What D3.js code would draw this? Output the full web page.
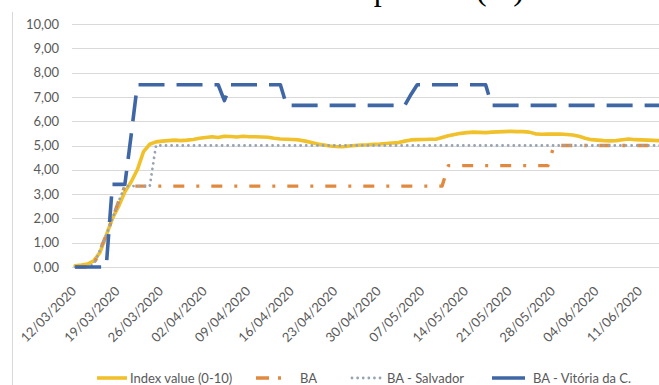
<!DOCTYPE html>
<html>
<head>
<meta charset="utf-8">
<script src="https://cdn.jsdelivr.net/npm/d3@7"></script>
<style>
  html, body { margin: 0; padding: 0; background: #fff; overflow: hidden; }
  text { font-family: Lato, "Liberation Sans", sans-serif; }
</style>
</head>
<body>
<svg id="chart" width="659" height="385"></svg>
<script>
// Daily series, starting 12/03/2020
const firstDay = "12/03/2020";

const indexValue = [
  0.05, 0.08, 0.12, 0.25, 0.6, 1.3, 2.0, 2.5, 3.1, 3.5,
  4.0, 4.75, 5.05, 5.15, 5.18, 5.2, 5.22, 5.2, 5.22, 5.25,
  5.3, 5.33, 5.36, 5.33, 5.38, 5.37, 5.35, 5.38, 5.36, 5.36,
  5.35, 5.34, 5.3, 5.27, 5.26, 5.25, 5.23, 5.18, 5.12, 5.06,
  5.02, 4.98, 4.96, 4.95, 4.98, 5.0, 5.02, 5.03, 5.05, 5.06,
  5.08, 5.1, 5.12, 5.18, 5.23, 5.24, 5.25, 5.26, 5.26, 5.33,
  5.4, 5.45, 5.5, 5.53, 5.55, 5.54, 5.53, 5.55, 5.56, 5.57,
  5.58, 5.57, 5.57, 5.55, 5.48, 5.46, 5.47, 5.47, 5.47, 5.45,
  5.43, 5.38, 5.3, 5.24, 5.22, 5.2, 5.19, 5.2, 5.24, 5.27,
  5.24, 5.23, 5.22, 5.21, 5.2, 5.2, 5.2
];

const baValues = [
  0, 0, 0, 0.1, 0.7, 1.3, 2.0, 2.7, 3.33, 3.33,
  3.33, 3.33, 3.33, 3.33, 3.33, 3.33, 3.33, 3.33, 3.33, 3.33,
  3.33, 3.33, 3.33, 3.33, 3.33, 3.33, 3.33, 3.33, 3.33, 3.33,
  3.33, 3.33, 3.33, 3.33, 3.33, 3.33, 3.33, 3.33, 3.33, 3.33,
  3.33, 3.33, 3.33, 3.33, 3.33, 3.33, 3.33, 3.33, 3.33, 3.33,
  3.33, 3.33, 3.33, 3.33, 3.33, 3.33, 3.33, 3.33, 3.33, 3.33,
  4.17, 4.17, 4.17, 4.17, 4.17, 4.17, 4.17, 4.17, 4.17, 4.17,
  4.17, 4.17, 4.17, 4.17, 4.17, 4.17, 4.17, 5.0, 5.0, 5.0,
  5.0, 5.0, 5.0, 5.0, 5.0, 5.0, 5.0, 5.0, 5.0, 5.0,
  5.0, 5.0, 5.0, 5.0, 5.0, 5.0, 5.0
];

const salvadorValues = [
  0, 0, 0, 0.1, 0.7, 1.3, 2.0, 2.7, 3.33, 3.33,
  3.33, 3.33, 3.33, 5.0, 5.0, 5.0, 5.0, 5.0, 5.0, 5.0,
  5.0, 5.0, 5.0, 5.0, 5.0, 5.0, 5.0, 5.0, 5.0, 5.0,
  5.0, 5.0, 5.0, 5.0, 5.0, 5.0, 5.0, 5.0, 5.0, 5.0,
  5.0, 5.0, 5.0, 5.0, 5.0, 5.0, 5.0, 5.0, 5.0, 5.0,
  5.0, 5.0, 5.0, 5.0, 5.0, 5.0, 5.0, 5.0, 5.0, 5.0,
  5.0, 5.0, 5.0, 5.0, 5.0, 5.0, 5.0, 5.0, 5.0, 5.0,
  5.0, 5.0, 5.0, 5.0, 5.0, 5.0, 5.0, 5.0, 5.0, 5.0,
  5.0, 5.0, 5.0, 5.0, 5.0, 5.0, 5.0, 5.0, 5.0, 5.0,
  5.0, 5.0, 5.0, 5.0, 5.0, 5.0, 5.0
];

const vitoriaValues = [
  0, 0, 0, 0, 0, 0, 3.4, 3.4, 3.4, 5.4,
  7.5, 7.5, 7.5, 7.5, 7.5, 7.5, 7.5, 7.5, 7.5, 7.5,
  7.5, 7.5, 7.5, 7.5, 6.85, 7.5, 7.5, 7.5, 7.5, 7.5,
  7.5, 7.5, 7.5, 7.5, 6.65, 6.65, 6.65, 6.65, 6.65, 6.65,
  6.65, 6.65, 6.65, 6.65, 6.65, 6.65, 6.65, 6.65, 6.65, 6.65,
  6.65, 6.65, 6.65, 6.65, 7.1, 7.5, 7.5, 7.5, 7.5, 7.5,
  7.5, 7.5, 7.5, 7.5, 7.5, 7.5, 7.5, 6.65, 6.65, 6.65,
  6.65, 6.65, 6.65, 6.65, 6.65, 6.65, 6.65, 6.65, 6.65, 6.65,
  6.65, 6.65, 6.65, 6.65, 6.65, 6.65, 6.65, 6.65, 6.65, 6.65,
  6.65, 6.65, 6.65, 6.65, 6.65, 6.65, 6.65
];

const yTicks = [0, 1, 2, 3, 4, 5, 6, 7, 8, 9, 10];

const dateLabels = [
  "12/03/2020", "19/03/2020", "26/03/2020", "02/04/2020", "09/04/2020",
  "16/04/2020", "23/04/2020", "30/04/2020", "07/05/2020", "14/05/2020",
  "21/05/2020", "28/05/2020", "04/06/2020", "11/06/2020"
];

const seriesNames = ["Index value (0-10)", "BA", "BA - Salvador", "BA - Vitória da C."];

// ---- drawing ----
const parse = d3.utcParse("%d/%m/%Y");
const fmtComma = v => d3.format(".2f")(v).replace(".", ",");
const start = parse(firstDay);
const days = indexValue.map((_, i) => d3.utcDay.offset(start, i));

const svg = d3.select("#chart");
const plotLeft = 72, plotRight = 659;
const dayWidth = 6.22;
const labelFont = "13px";

const x = d3.scaleUtc()
  .domain([d3.utcHour.offset(start, -12), d3.utcHour.offset(days[days.length - 1], 12)])
  .range([plotLeft, plotLeft + dayWidth * days.length]);

const y = d3.scaleLinear().domain([0, 10]).range([267, 24]);

// chart-area border on the left
svg.append("line")
  .attr("x1", 12.5).attr("x2", 12.5).attr("y1", 12).attr("y2", 385)
  .attr("stroke", "#d9d9d9").attr("stroke-width", 1);

// title above the chart area
svg.append("text")
  .attr("x", 524).attr("y", 0)
  .attr("text-anchor", "end")
  .style("font-family", "'Liberation Serif', serif")
  .style("font-size", "32px")
  .attr("fill", "#000")
  .text("Index comparison (%)");

// horizontal gridlines
svg.append("g")
  .selectAll("line")
  .data(yTicks)
  .join("line")
  .attr("x1", plotLeft).attr("x2", plotRight)
  .attr("y1", d => Math.round(y(d)) + 0.5)
  .attr("y2", d => Math.round(y(d)) + 0.5)
  .attr("stroke", "#d9d9d9").attr("stroke-width", 1);

// y axis labels
const yAxis = d3.axisLeft(y).tickValues(yTicks).tickFormat(fmtComma).tickSize(0).tickPadding(0);
const gy = svg.append("g").attr("transform", `translate(59,0)`).call(yAxis);
gy.select(".domain").remove();
gy.selectAll("text")
  .style("font-family", "Lato, sans-serif")
  .style("font-size", labelFont)
  .attr("fill", "#595959");

// x axis labels, rotated
const xAxis = d3.axisBottom(x)
  .tickValues(dateLabels.map(parse))
  .tickFormat(d3.utcFormat("%d/%m/%Y"))
  .tickSize(0).tickPadding(0);
const gx = svg.append("g").call(xAxis);
gx.select(".domain").remove();
gx.selectAll(".tick").attr("transform", d => `translate(${x(d) + 2},292)`);
gx.selectAll("text")
  .attr("x", 0).attr("y", 0).attr("dy", 0)
  .attr("text-anchor", "end")
  .attr("transform", "rotate(-45)")
  .style("font-family", "Lato, sans-serif")
  .style("font-size", labelFont)
  .attr("fill", "#595959");

// series lines
const line = d3.line()
  .x((d, i) => x(days[i]))
  .y(d => y(d));

const styles = [
  { values: indexValue, color: "#f0c12a", width: 3.6, dash: null, cap: "round" },
  { values: baValues, color: "#e08a40", width: 3.4, dash: "11,12,3,12", cap: "butt" },
  { values: salvadorValues, color: "#98a4b3", width: 2.8, dash: "0.01,5.6", cap: "round" },
  { values: vitoriaValues, color: "#3f67a6", width: 3.6, dash: "26,12", cap: "butt" }
];

svg.append("g")
  .selectAll("path")
  .data(styles)
  .join("path")
  .attr("d", d => line(d.values))
  .attr("fill", "none")
  .attr("stroke", d => d.color)
  .attr("stroke-width", d => d.width)
  .attr("stroke-linejoin", "round")
  .attr("stroke-linecap", d => d.cap)
  .attr("stroke-dasharray", d => d.dash);

// legend
const legendY = 378;
const legendItems = [
  { name: seriesNames[0], x1: 97, x2: 127, tx: 130, dash: null, cap: "butt" },
  { name: seriesNames[1], x1: 256, x2: 284, tx: 300, dash: "13,9,3,20", cap: "butt" },
  { name: seriesNames[2], x1: 352, x2: 383, tx: 387, dash: "0.01,5.6", cap: "round" },
  { name: seriesNames[3], x1: 492, x2: 525, tx: 533, dash: null, cap: "butt" }
];
const lg = svg.append("g");
legendItems.forEach((it, k) => {
  const s = styles[k];
  lg.append("line")
    .attr("x1", it.x1).attr("x2", it.x2)
    .attr("y1", legendY).attr("y2", legendY)
    .attr("stroke", s.color)
    .attr("stroke-width", s.width)
    .attr("stroke-linecap", it.cap)
    .attr("stroke-dasharray", it.dash);
  lg.append("text")
    .attr("x", it.tx).attr("y", legendY + 4.5)
    .style("font-family", "Lato, sans-serif")
    .style("font-size", labelFont)
    .attr("fill", "#595959")
    .text(it.name);
});
</script>
</body>
</html>
